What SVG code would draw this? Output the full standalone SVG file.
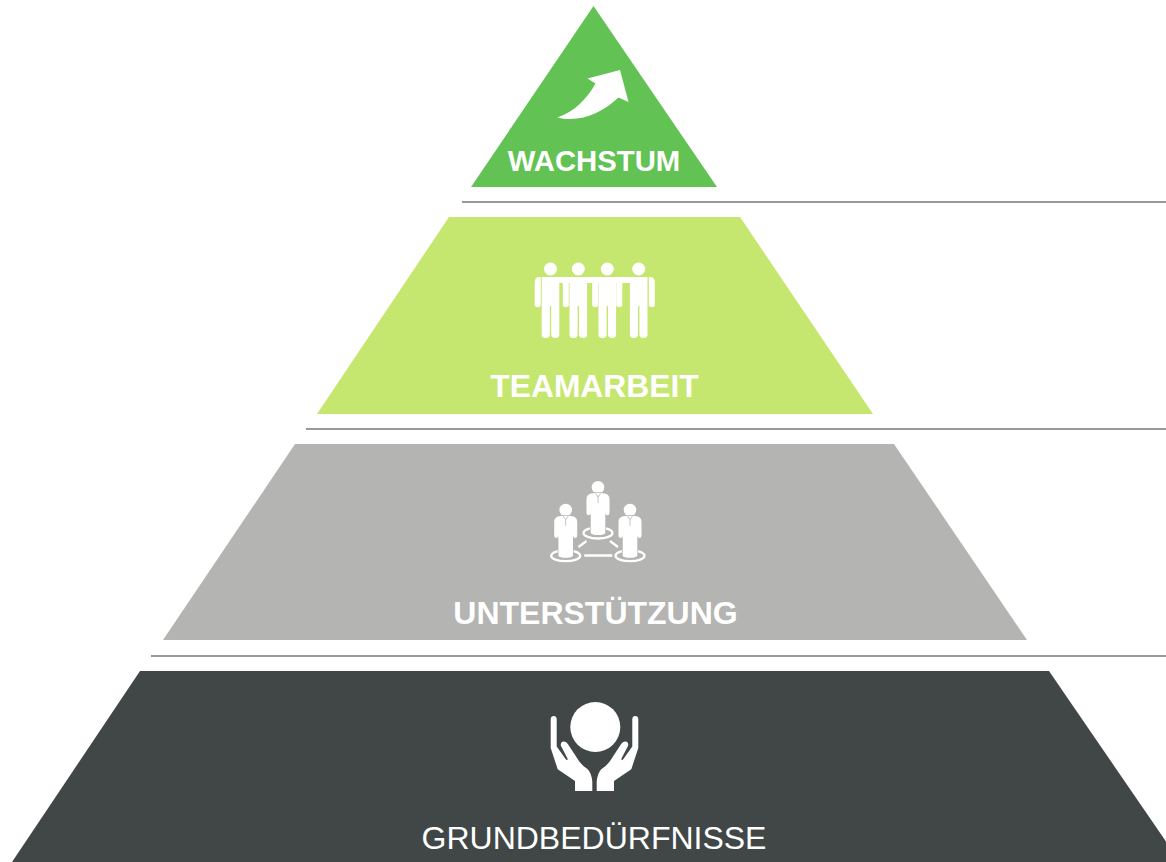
<svg xmlns="http://www.w3.org/2000/svg" width="1166" height="862" viewBox="0 0 1166 862">
<style>
.lbl{font-family:"Liberation Sans",Arial,sans-serif;font-size:32px;fill:#fff;text-anchor:middle}
.b{font-weight:700}
.ln{stroke:#999;stroke-width:2;fill:none}
.w{fill:#fff}
.ring{fill:none;stroke:#fff;stroke-width:2.300}
.lk{stroke:#fff;stroke-width:2.300;fill:none}
.bz{fill:#fff;stroke:#B4B4B2;stroke-width:1.500;paint-order:stroke}
.col{fill:none;stroke:#B4B4B2;stroke-width:.8}
</style>
<defs>
<g id="man">
<circle cx="0" cy="-69" r="6.500" class="w"/>
<path class="w" d="M-8.800-61H8.800V-3Q8.600-.2 5 0Q1-.2.700-3V-32H-.7V-3Q-1-.2-5 0Q-8.600-.2-8.800-3Z"/>
</g>
<path id="armL" class="w" d="M0-61H-2Q-6-61-6-55V-33Q-6-31-3-31Q0-31 0-33Z"/>
<path id="armR" class="w" d="M0-61H2Q6-61 6-55V-33Q6-31 3-31Q0-31 0-33Z"/>
<g id="biz">
<ellipse class="ring" cx="0" cy="0" rx="14.500" ry="5.500"/>
<circle cx="0" cy="-45.700" r="6.300" class="w"/>
<path class="bz" d="M-7-39.500L-2.500-40H2.500L7-39.500Q11.500-38.500 11.500-34V-20Q11.500-17.700 9.300-17.700Q7.700-17.700 7.300-20V0Q6 2 0 2Q-6 2-7.300 0V-20Q-7.700-17.700-9.300-17.700Q-11.500-17.700-11.500-20V-34Q-11.500-38.500-7-39.500Z"/>
<path class="col" d="M-2.500-39.500L0-36L2.500-39.500M0-36V-30"/>
</g>
</defs>
<g id="connectors">
<path class="ln" d="M462 202H1166"/>
<path class="ln" d="M306 429H1166"/>
<path class="ln" d="M151 656H1166"/>
</g>
<g id="wachstum">
<path fill="#62C354" d="M593.500 6L717 187H471Z"/>
<path class="w" d="M620 70L587.500 78.500L595.500 83.500C587 99 574 112 557.500 117.500C580 123 602 113 618.500 97.500L628.500 102Z"/>
<text class="lbl b" x="594" y="171" style="font-size:29.300px">WACHSTUM</text>
</g>
<g id="teamarbeit">
<path fill="#C5E66F" d="M449 217H740L873 414H317Z"/>
<use href="#man" x="550.500" y="338"/>
<use href="#man" x="578.300" y="338"/>
<use href="#man" x="607.300" y="338"/>
<use href="#man" x="638.700" y="338"/>
<use href="#armL" x="540.700" y="338"/>
<use href="#armL" x="568.800" y="338"/>
<use href="#armL" x="598.200" y="338"/>
<use href="#armR" x="616.300" y="338"/>
<use href="#armR" x="648.800" y="338"/>
<path class="w" d="M559 277H630V283H559Z"/>
<text class="lbl b" x="594.500" y="397" style="font-size:31.800px">TEAMARBEIT</text>
</g>
<g id="unterstuetzung">
<path fill="#B4B4B2" d="M295 444H894L1027 640H163Z"/>
<use href="#biz" x="598" y="533"/>
<use href="#biz" x="565.700" y="555.700"/>
<use href="#biz" x="630" y="555.700"/>
<path class="lk" d="M584.300 555.500H612.300M578.500 547L586.500 541M610 541L618 547"/>
<text class="lbl b" x="595.500" y="624">UNTERSTÜTZUNG</text>
</g>
<g id="grundbeduerfnisse">
<path fill="#414747" d="M140 671H1049L1180 862H12Z"/>
<circle class="w" cx="595.300" cy="727" r="25"/>
<path class="w" id="hand" d="M550.700 719Q551 716 553.700 716Q556.500 716 556.700 719V746.500L566 759.500Q568 761 567.500 758.500L561 746Q560 742.500 563 741.500Q565.500 741 567.500 743.500L577 758Q581 765 587.700 769.300Q591.500 773 592.300 781.700V791H575V781L557.700 769.300L550.700 748Z"/>
<use href="#hand" transform="matrix(-1 0 0 1 1189 0)"/>
<text class="lbl" x="594" y="849">GRUNDBEDÜRFNISSE</text>
</g>
</svg>
